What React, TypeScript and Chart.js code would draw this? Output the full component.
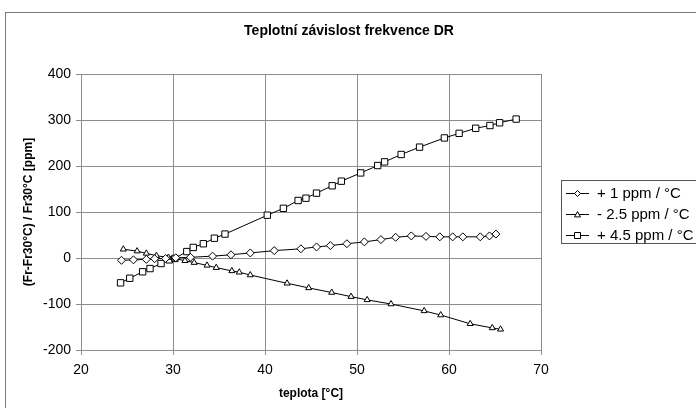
import React, { useEffect, useRef } from "react";
import { Chart, registerables } from "chart.js";

Chart.register(...registerables);

const titleText = "Teplotní závislost frekvence DR";
const xTitle = "teplota [°C]";
const yTitle = "(Fr-Fr30°C) / Fr30°C [ppm]";
const seriesLabels = ["+ 1 ppm / °C", "- 2.5 ppm / °C", "+ 4.5 ppm / °C"];
const seriesMarkers = ["rectRot", "triangle", "rect"];
const xTicks = [20, 30, 40, 50, 60, 70];
const yTicks = [-200, -100, 0, 100, 200, 300, 400];

// + 1 ppm / °C
const s1Temp = [24.4, 25.7, 27.1, 28.0, 29.2, 30.3, 31.9, 34.3, 36.3, 38.4, 41.0, 43.9, 45.6, 47.1, 48.9, 50.8, 52.6, 54.2, 55.9, 57.5, 59.0, 60.4, 61.5, 63.4, 64.4, 65.1];
const s1Ppm = [-5, -4, -3, -1.5, -1, 0.5, 1.5, 4, 7, 11, 16, 20, 24, 27, 31, 35, 40, 45, 48, 47, 46, 46, 46, 46, 48, 52];

// - 2.5 ppm / °C
const s2Temp = [24.6, 26.1, 27.1, 28.2, 29.5, 30.2, 31.3, 32.3, 33.7, 34.7, 36.4, 37.2, 38.4, 42.4, 44.75, 47.25, 49.35, 51.1, 53.7, 57.3, 59.1, 62.3, 64.7, 65.6];
const s2Ppm = [19, 15, 10, 5, 1, -1, -6, -10, -16, -21, -28, -31, -37, -55, -65, -75, -84, -91, -100, -115, -124, -143, -152, -155];

// + 4.5 ppm / °C
const s3Temp = [24.3, 25.3, 26.7, 27.5, 28.7, 29.6, 30.2, 31.5, 32.2, 33.3, 34.5, 35.65, 40.25, 42.0, 43.6, 44.45, 45.6, 47.3, 48.3, 50.4, 52.25, 53.0, 54.8, 56.8, 59.5, 61.1, 62.9, 64.45, 65.5, 67.3];
const s3Ppm = [-54, -44, -30, -23, -12, -4, -1, 14, 23, 31, 43, 52, 93, 108, 125, 130, 141, 157, 167, 185, 201, 209, 225, 241, 261, 271, 282, 288, 294, 302];

const GRID = "#8c8c8c";
const FONT = "Arial, 'Liberation Sans', sans-serif";

function toPoints(xs: number[], ys: number[]) {
  return xs.map((x, i) => ({ x, y: ys[i] }));
}

function drawMarker(ctx: CanvasRenderingContext2D, kind: string, x: number, y: number, r: number) {
  ctx.beginPath();
  if (kind === "rect") {
    ctx.rect(x - r, y - r, 2 * r, 2 * r);
  } else if (kind === "rectRot") {
    ctx.moveTo(x, y - r);
    ctx.lineTo(x + r, y);
    ctx.lineTo(x, y + r);
    ctx.lineTo(x - r, y);
    ctx.closePath();
  } else {
    ctx.moveTo(x, y - r);
    ctx.lineTo(x + r, y + r * 0.8);
    ctx.lineTo(x - r, y + r * 0.8);
    ctx.closePath();
  }
  ctx.fillStyle = "#fff";
  ctx.fill();
  ctx.strokeStyle = "#000";
  ctx.lineWidth = 1;
  ctx.stroke();
}

const decorPlugin = {
  id: "decor",
  beforeDraw(chart: any) {
    const ctx = chart.ctx as CanvasRenderingContext2D;
    ctx.save();
    ctx.fillStyle = "#fff";
    ctx.fillRect(0, 0, chart.width, chart.height);
    ctx.restore();
  },
  afterDraw(chart: any) {
    const ctx = chart.ctx as CanvasRenderingContext2D;
    const area = chart.chartArea;
    ctx.save();
    // outer border
    ctx.strokeStyle = "#7a7a7a";
    ctx.lineWidth = 1;
    ctx.strokeRect(5.5, 12.5, 720, 420);

    // title
    ctx.fillStyle = "#000";
    ctx.textAlign = "center";
    ctx.textBaseline = "middle";
    ctx.font = `bold 14px ${FONT}`;
    ctx.fillText(titleText, 349, 31);

    // x title
    ctx.font = `bold 12px ${FONT}`;
    ctx.fillText(xTitle, (area.left + area.right) / 2, 394);

    // y title
    ctx.save();
    ctx.translate(29, (area.top + area.bottom) / 2);
    ctx.rotate(-Math.PI / 2);
    ctx.fillText(yTitle, 0, 0);
    ctx.restore();

    // legend
    ctx.strokeStyle = "#555";
    ctx.strokeRect(561.5, 180.5, 140, 63);
    const rows = [193, 214, 235];
    ctx.font = `15px ${FONT}`;
    ctx.textAlign = "left";
    seriesLabels.forEach((lab, i) => {
      const y = rows[i] + 0.5;
      ctx.strokeStyle = "#000";
      ctx.lineWidth = 1;
      ctx.beginPath();
      ctx.moveTo(566, y);
      ctx.lineTo(589, y);
      ctx.stroke();
      drawMarker(ctx, seriesMarkers[i], 577.5, y, 3);
      ctx.fillStyle = "#000";
      ctx.fillText(lab, 597, rows[i] + 1);
    });
    ctx.restore();
  },
};

export default function App() {
  const ref = useRef<HTMLCanvasElement | null>(null);
  useEffect(() => {
    if (!ref.current) return;
    const common = {
      showLine: true,
      borderColor: "#000",
      borderWidth: 1,
      backgroundColor: "#fff",
      pointBackgroundColor: "#fff",
      pointBorderColor: "#000",
      pointBorderWidth: 1,
      tension: 0,
    };
    const chart = new Chart(ref.current, {
      type: "scatter",
      data: {
        datasets: [
          { ...common, label: seriesLabels[0], data: toPoints(s1Temp, s1Ppm), pointStyle: "rectRot", pointRadius: 4 },
          { ...common, label: seriesLabels[1], data: toPoints(s2Temp, s2Ppm), pointStyle: "triangle", pointRadius: 3.5 },
          { ...common, label: seriesLabels[2], data: toPoints(s3Temp, s3Ppm), pointStyle: "rect", pointRadius: 4.5 },
        ],
      } as any,
      options: {
        animation: false,
        responsive: false,
        devicePixelRatio: 1,
        layout: { padding: { left: 0, top: 74, right: 155, bottom: 0 } },
        plugins: { legend: { display: false }, title: { display: false }, tooltip: { enabled: false } },
        scales: {
          x: {
            type: "linear",
            min: xTicks[0],
            max: xTicks[xTicks.length - 1],
            afterBuildTicks: (s: any) => { s.ticks = xTicks.map((v) => ({ value: v })); },
            afterFit: (s: any) => { s.height = 58; },
            ticks: { color: "#000", font: { family: FONT, size: 14 }, padding: 7, maxRotation: 0 },
            grid: { color: GRID, tickLength: 5, tickColor: GRID },
            border: { color: GRID },
          },
          y: {
            type: "linear",
            min: yTicks[0],
            max: yTicks[yTicks.length - 1],
            afterBuildTicks: (s: any) => { s.ticks = yTicks.map((v) => ({ value: v })); },
            afterFit: (s: any) => { s.width = 81; },
            ticks: { color: "#000", font: { family: FONT, size: 14 }, padding: 5 },
            grid: { color: GRID, tickLength: 5, tickColor: GRID },
            border: { color: GRID },
          },
        },
      } as any,
      plugins: [decorPlugin],
    });
    return () => chart.destroy();
  }, []);
  return (
    <div style={{ position: "absolute", left: 0, top: 0, width: 696, height: 408 }}>
      <canvas ref={ref} width={696} height={408} style={{ width: 696, height: 408, display: "block" }} />
    </div>
  );
}
